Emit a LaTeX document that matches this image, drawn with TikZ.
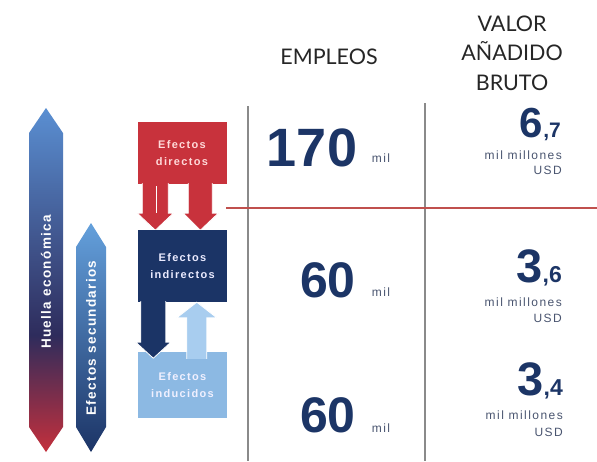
\documentclass[tikz,border=0pt]{standalone}
\usepackage{fontspec}
\setmainfont{Liberation Sans}
\newfontfamily\hdrfont{Lato}
\usetikzlibrary{calc}
\definecolor{hred}{HTML}{C4303C}
\definecolor{hnavy}{HTML}{2E2C5C}
\definecolor{hblue}{HTML}{5A8FD2}
\definecolor{snavy}{HTML}{1C3466}
\definecolor{sblue}{HTML}{64A0DC}
\definecolor{boxred}{HTML}{C8323C}
\definecolor{boxnavy}{HTML}{1B3466}
\definecolor{boxlight}{HTML}{8CB9E3}
\definecolor{arrlight}{HTML}{A8CDEF}
\definecolor{numnavy}{HTML}{1C3566}
\definecolor{smallgray}{HTML}{4A5570}
\definecolor{linered}{HTML}{C0504D}
\definecolor{linegray}{HTML}{8A8A8A}
\pgfdeclareverticalshading{huella}{100bp}{color(0bp)=(hred); color(25bp)=(hred); color(42bp)=(hnavy); color(75bp)=(hblue); color(100bp)=(hblue)}
\pgfdeclareverticalshading{secund}{100bp}{color(0bp)=(snavy); color(25bp)=(snavy); color(75bp)=(sblue); color(100bp)=(sblue)}
\begin{document}
\begin{tikzpicture}[x=1pt,y=-1pt,
  boxlabel/.style={font=\fontsize{11}{17}\selectfont\bfseries\addfontfeatures{LetterSpace=12}, align=center},
  effbox/.style={draw=none, inner sep=0pt, minimum width=89pt, minimum height=#1},
  sidelabel/.style={rotate=90, white, font=\fontsize{13.5}{13.5}\selectfont\bfseries\addfontfeatures{LetterSpace=10}},
  bignum/.style={numnavy, inner sep=0pt, font=\bfseries},
  unitlabel/.style={smallgray, inner sep=0pt, font=\fontsize{12}{12}\selectfont\addfontfeatures{LetterSpace=12}},
  header/.style={black!85, font=\hdrfont\fontsize{21.5}{29.5}\selectfont, align=center},
  blockarrow/.style={draw=white, line width=0.8pt, line join=miter}]
\useasboundingbox (0,0) rectangle (597,461);
\fill[white] (0,0) rectangle (597,461);

% side arrows
\shade[shading=huella] (46,108) -- (63,133) -- (63,427) -- (46,452) -- (29,427) -- (29,133) -- cycle;
\node[sidelabel] (huella) at (46,282) {Huella económica};
\shade[shading=secund] (91,223) -- (106,247) -- (106,427) -- (91,452) -- (76,427) -- (76,247) -- cycle;
\node[sidelabel] (secund) at (91,338) {Efectos secundarios};

% boxes
\node[effbox=62pt, fill=boxred] (dir) at (182,153) {};
\node[boxlabel, text=red!15] (dirt) at (dir.center) {Efectos\\directos};

% red arrows
\path[blockarrow, fill=boxred] ($(dir.south west)+(5,-1)$) -- ++(0,30) -- ++(-5,0) -- ($(dir.south west)+(18,46)$) -- ($(dir.south west)+(36,29)$) -- ++(-5,0) -- ++(0,-30);
\draw[white, line width=0.8pt] ($(dir.south west)+(19,2)$) -- ++(0,27);
\path[blockarrow, fill=boxred] ($(dir.south west)+(51,-1)$) -- ++(0,30) -- ++(-5,0) -- ($(dir.south west)+(63,46)$) -- ($(dir.south west)+(81,29)$) -- ++(-6,0) -- ++(0,-30);

\node[effbox=72pt, fill=boxnavy] (ind) at (182.5,266) {};
\node[boxlabel, text=blue!8!white] (indt) at (ind.center) {Efectos\\indirectos};

\node[effbox=66pt, fill=boxlight] (indu) at (182.5,385) {};
\node[boxlabel, text=blue!6!white] (indut) at (indu.center) {Efectos\\inducidos};

% navy down arrow
\path[blockarrow, fill=boxnavy] ($(ind.south west)+(3,-1)$) -- ++(0,41) -- ++(-5,0) -- ($(ind.south west)+(15.5,56)$) -- ($(ind.south west)+(33,40)$) -- ++(-5,0) -- ++(0,-41);
% light up arrow
\path[blockarrow, fill=arrlight] ($(indu.north west)+(49,7)$) -- ++(0,-41) -- ++(-10,0) -- ($(ind.south west)+(59,0)$) -- ($(indu.north west)+(79,-34)$) -- ++(-10,0) -- ++(0,41);

% grid lines
\coordinate (l1t) at (248,106);
\coordinate (l1b) at (248,461);
\coordinate (l2t) at (425,103);
\coordinate (l2b) at (425,461);
\draw[linegray, line width=1.6pt] (l1t) -- (l1b);
\draw[linegray, line width=1.6pt] (l2t) -- (l2b);
\coordinate (rl) at (226,208);
\coordinate (rr) at (597,208);
\draw[linered, line width=2.6pt] (rl) -- (rr);

% headers
\node[header] (emp) at (329,57) {EMPLEOS};
\node[header] (vab) at (512,53) {VALOR\\AÑADIDO\\BRUTO};

% employment numbers
\node[bignum, font=\fontsize{54}{54}\selectfont\bfseries] (n170) at (312,148) {170};
\node[unitlabel] (m170) at (381,158) {mil};
\node[bignum, font=\fontsize{50}{50}\selectfont\bfseries] (n60a) at (328,280) {60};
\node[unitlabel] (m60a) at (381,292) {mil};
\node[bignum, font=\fontsize{50}{50}\selectfont\bfseries] (n60b) at (328,415) {60};
\node[unitlabel] (m60b) at (381,428) {mil};

% value numbers
\node[bignum, anchor=base east] (v67) at (561,137) {\fontsize{42}{42}\selectfont 6\fontsize{21}{21}\selectfont ,7};
\node[unitlabel, anchor=east] (v67a) at (562,155) {mil millones};
\node[unitlabel, anchor=east] (v67b) at (562,170) {USD};
\node[bignum, anchor=base east] (v36) at (562,282) {\fontsize{47}{47}\selectfont 3\fontsize{23}{23}\selectfont ,6};
\node[unitlabel, anchor=east] (v36a) at (562,302) {mil millones};
\node[unitlabel, anchor=east] (v36b) at (562,318) {USD};
\node[bignum, anchor=base east] (v34) at (563,395) {\fontsize{47}{47}\selectfont 3\fontsize{23}{23}\selectfont ,4};
\node[unitlabel, anchor=east] (v34a) at (563,415) {mil millones};
\node[unitlabel, anchor=east] (v34b) at (563,432) {USD};
\end{tikzpicture}
\end{document}
